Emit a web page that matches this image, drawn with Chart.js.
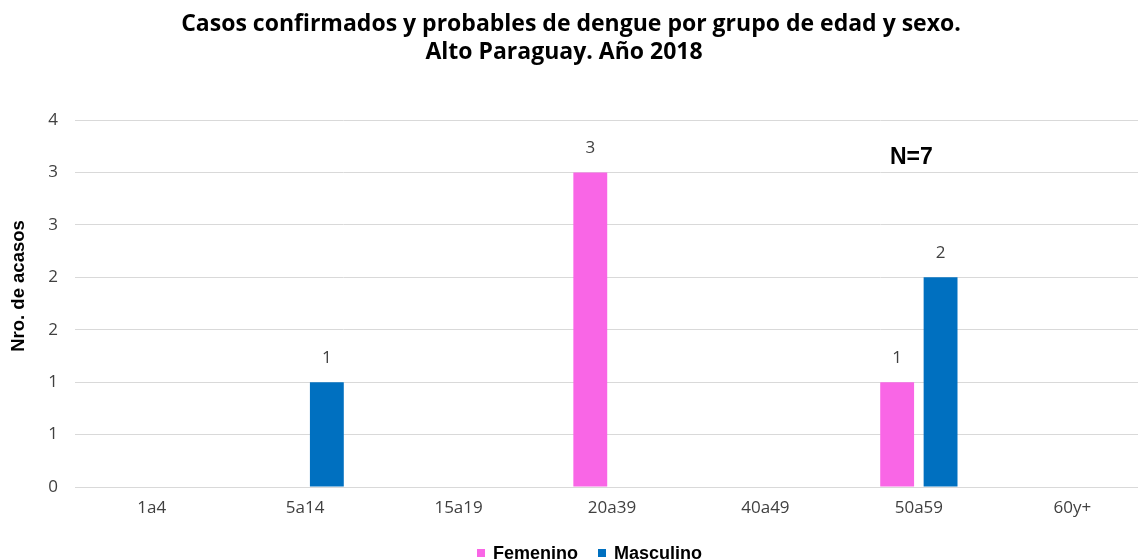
<!DOCTYPE html>
<html>
<head>
<meta charset="utf-8">
<script src="https://cdn.jsdelivr.net/npm/chart.js@4"></script>
<style>
html,body{margin:0;padding:0;background:#fff;overflow:hidden;}
#wrap{width:1152px;height:560px;position:relative;}
</style>
</head>
<body>
<div id="wrap"><canvas id="c" width="1152" height="560"></canvas></div>
<script>
const categories = ['1a4','5a14','15a19','20a39','40a49','50a59','60y+'];
const femenino = [null, null, null, 3, null, 1, null];
const masculino = [null, 1, null, null, null, 2, null];
const seriesNames = ['Femenino','Masculino'];
const titleLines = ['Casos confirmados y probables de dengue por grupo de edad y sexo.', 'Alto Paraguay. Año 2018'];
const yAxisTitle = 'Nro. de acasos';
const annotation = 'N=7';

const colors = ['#F966E6', '#0070C0'];

const overlay = {
  id: 'overlay',
  afterDraw(chart) {
    const ctx = chart.ctx;
    ctx.save();
    // title
    ctx.fillStyle = '#000';
    ctx.textAlign = 'center';
    ctx.textBaseline = 'middle';
    ctx.font = 'bold 23px "Open Sans"';
    ctx.fillText(titleLines[0], 571, 24);
    ctx.fillText(titleLines[1], 564, 52);
    // y axis title
    ctx.save();
    ctx.translate(19, 286);
    ctx.rotate(-Math.PI / 2);
    ctx.font = 'bold 18.5px "Liberation Sans"';
    ctx.fillStyle = '#000';
    ctx.fillText(yAxisTitle, 0, 0);
    ctx.restore();
    // N=7
    ctx.textAlign = 'left';
    ctx.font = 'bold 23px "Liberation Sans"';
    ctx.fillStyle = '#000';
    ctx.fillText(annotation, 890, 158);
    // data labels
    ctx.textAlign = 'center';
    ctx.font = '17px "Open Sans"';
    ctx.fillStyle = '#404040';
    chart.data.datasets.forEach((ds, i) => {
      const meta = chart.getDatasetMeta(i);
      meta.data.forEach((bar, j) => {
        const v = ds.data[j];
        if (v === null || v === undefined) return;
        ctx.fillText(String(v), bar.x, bar.y - 24);
      });
    });
    // legend
    ctx.textAlign = 'left';
    ctx.font = 'bold 18px "Liberation Sans"';
    const legendX = [477, 598];
    seriesNames.forEach((name, i) => {
      ctx.fillStyle = colors[i];
      ctx.fillRect(legendX[i], 549, 8, 8);
      ctx.fillStyle = '#000';
      ctx.fillText(name, legendX[i] + 16, 554);
    });
    ctx.restore();
  }
};

new Chart(document.getElementById('c'), {
  type: 'bar',
  data: {
    labels: categories,
    datasets: [
      { label: seriesNames[0], data: femenino, backgroundColor: colors[0], borderWidth: 0 },
      { label: seriesNames[1], data: masculino, backgroundColor: colors[1], borderWidth: 0 }
    ]
  },
  options: {
    responsive: false,
    animation: false,
    devicePixelRatio: 1,
    layout: { padding: { left: 0, top: 120, right: 3, bottom: 0 } },
    plugins: { legend: { display: false }, title: { display: false }, tooltip: { enabled: false } },
    datasets: { bar: { categoryPercentage: 0.566, barPercentage: 0.78 } },
    scales: {
      x: {
        grid: { display: false, drawTicks: false },
        border: { display: true, color: '#d9d9d9', width: 1 },
        ticks: { color: '#404040', font: { family: 'Open Sans', size: 17 }, padding: 11, maxRotation: 0, autoSkip: false },
        afterFit(s) { s.height = 73; }
      },
      y: {
        min: 0, max: 3.5,
        grid: { color: '#d9d9d9', lineWidth: 1, drawTicks: false },
        border: { display: false },
        ticks: {
          stepSize: 0.5,
          color: '#404040',
          font: { family: 'Open Sans', size: 17 },
          padding: 17,
          callback: v => String(Math.round(v))
        },
        afterFit(s) { s.width = 75; }
      }
    }
  },
  plugins: [overlay]
});
</script>
</body>
</html>
